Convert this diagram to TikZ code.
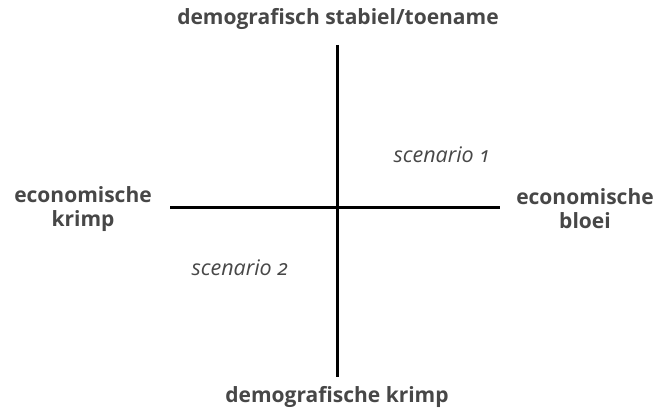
\documentclass[tikz,border=0pt]{standalone}
\usepackage{fontspec}
\setmainfont{Open Sans}[Numbers=OldStyle]
\begin{document}
\begin{tikzpicture}[x=1pt,y=-1pt,
  axis/.style={line width=3pt,black},
  lbl/.style={text=black!72,font=\fontsize{21}{24}\selectfont\bfseries,align=center,inner sep=0pt},
  scen/.style={text=black!72,font=\fontsize{21.5}{24}\selectfont\itshape,inner sep=0pt}]
\useasboundingbox (0,0) rectangle (669,411);
\coordinate (vt) at (337,45);
\coordinate (vb) at (337,377);
\coordinate (hl) at (170,208);
\coordinate (hr) at (500,208);
\draw[axis] (vt) -- (vb);
\draw[axis] (hl) -- (hr);
\node[lbl] (top) at (338,19) {demografisch stabiel/toename};
\node[lbl] (bot) at (337,397) {demografische krimp};
\node[lbl] (left) at (83,209) {economische\\krimp};
\node[lbl] (right) at (585,209) {economische\\bloei};
\node[scen] (s1) at (442,155) {scenario 1};
\node[scen] (s2) at (240,268) {scenario 2};
\end{tikzpicture}
\end{document}
